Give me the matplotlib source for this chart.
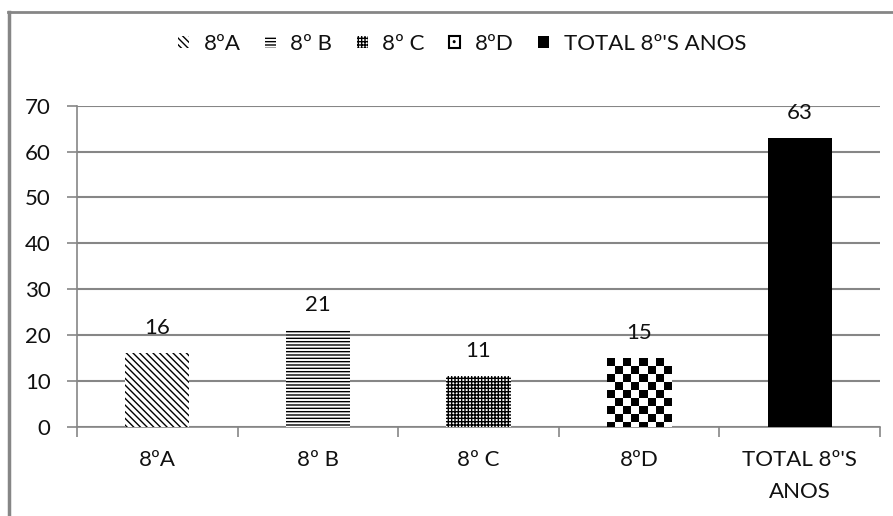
import matplotlib
matplotlib.use('Agg')
import matplotlib.pyplot as plt
from matplotlib.patches import Patch
from matplotlib.lines import Line2D
import numpy as np

# Data
categories = ['8ºA', '8º B', '8º C', '8ºD', "TOTAL 8º'S ANOS"]
tick_labels = ['8ºA', '8º B', '8º C', '8ºD', "TOTAL 8º'S\nANOS"]
values = [16, 21, 11, 15, 63]
hatches = ['\\\\\\\\\\', '-----', '+++++', None, None]
faces = ['white', 'white', 'white', 'white', 'black']

plt.rcParams['font.family'] = ['Lato', 'DejaVu Sans']
plt.rcParams['hatch.linewidth'] = 1.0
grey = '#868686'
txt = '#111111'
fs = 16

fig = plt.figure(figsize=(8.93, 5.16), dpi=100)
ax = fig.add_axes([77 / 893, 1 - 426.7 / 516, (880 - 77) / 893, (426.7 - 105.7) / 516])

x = np.arange(len(values))
bars = []
for i in range(len(values)):
    b = ax.bar(x[i], values[i], width=0.4, color=faces[i], edgecolor='black',
               linewidth=0, hatch=hatches[i], zorder=3)
    bars.append(b[0])
    ax.annotate(str(values[i]), (x[i], values[i]), xytext=(0, 11),
                textcoords='offset points', ha='center', va='bottom',
                fontsize=fs, color=txt)

ax.set_xlim(-0.5, len(values) - 0.5)
ax.set_ylim(0, 70)
ax.set_yticks(range(0, 71, 10))
ax.yaxis.grid(True, color=grey, linewidth=1.5)
ax.set_axisbelow(True)
ax.set_xticks(x)
ax.set_xticklabels(tick_labels, fontsize=fs, color=txt, linespacing=1.75)
ax.set_xticks(np.arange(-0.5, len(values), 1.0), minor=True)
ax.tick_params(axis='x', which='major', length=0, pad=17)
ax.tick_params(axis='x', which='minor', length=7, color=grey, width=1.2)
ax.tick_params(axis='y', length=7, color=grey, width=1.2, pad=12,
               labelsize=fs, labelcolor=txt)
for s in ['top', 'right']:
    ax.spines[s].set_visible(False)
for s in ['left', 'bottom']:
    ax.spines[s].set_color(grey)
    ax.spines[s].set_linewidth(1.2)

# checkerboard fill for 8ºD
fig.canvas.draw()
p = bars[3]
bb = p.get_window_extent()
w_px, h_px = int(round(bb.width)), int(round(bb.height))
cell = 8
jj, ii = np.meshgrid(np.arange(w_px), np.arange(h_px))
board = ((jj // cell + ii // cell) % 2).astype(float)
im = ax.imshow(board, cmap='gray', origin='upper', interpolation='nearest',
               extent=(p.get_x(), p.get_x() + p.get_width(), 0, p.get_height()),
               aspect='auto', zorder=3)
im.set_clip_path(p)
ax.set_xlim(-0.5, len(values) - 0.5)
ax.set_ylim(0, 70)

# legend
handles = []
for i in range(len(values)):
    if i == 3:
        handles.append(Patch(facecolor='white', edgecolor='black', linewidth=1.5, hatch='..'))
    else:
        handles.append(Patch(facecolor=faces[i], edgecolor='black', linewidth=0, hatch=hatches[i]))
fig.legend(handles, categories, loc='center', bbox_to_anchor=(462 / 893, 1 - 44 / 516),
           ncol=5, frameon=False, fontsize=fs, handlelength=0.5, handleheight=0.5,
           handletextpad=0.65, columnspacing=1.1, labelcolor=txt)

# outer frame
fig.add_artist(Line2D([8 / 893, 1], [1 - 12 / 516] * 2, color=grey, linewidth=2))
fig.add_artist(Line2D([9 / 893] * 2, [0, 1 - 12 / 516], color=grey, linewidth=2.5))

fig.savefig('out.png', dpi=100)
